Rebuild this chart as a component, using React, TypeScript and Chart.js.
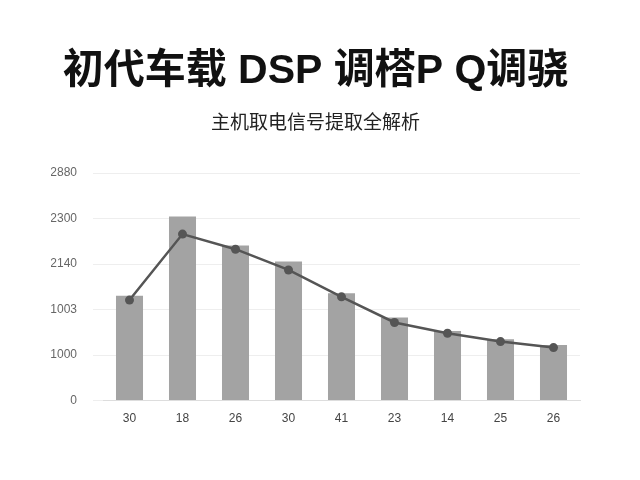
import React, { useRef, useEffect } from "react";
import Chart from "chart.js/auto";

const categories = ["30", "18", "26", "30", "41", "23", "14", "25", "26"];
const barValues = [1151, 2023, 1703, 1527, 1178, 913, 765, 673, 610];
const lineValues = [1104, 1829, 1663, 1435, 1140, 858, 740, 648, 582];
const yTickLabels = ["0", "1000", "1003", "2140", "2300", "2880"];

const titleText = "初代车载 DSP 调榙P Q调骁";
const subtitleText = "主机取电信号提取全解析";

const App: React.FC = () => {
  const canvasRef = useRef<HTMLCanvasElement>(null);
  const chartRef = useRef<Chart | null>(null);

  useEffect(() => {
    if (chartRef.current) chartRef.current.destroy();
    const ctx = canvasRef.current!.getContext("2d")!;

    chartRef.current = new Chart(ctx, {
      type: "bar",
      data: {
        labels: categories,
        datasets: [
          {
            type: "line",
            data: lineValues,
            borderColor: "#555555",
            backgroundColor: "#555555",
            borderWidth: 2.5,
            pointRadius: 4.5,
            pointBackgroundColor: "#555555",
            pointBorderWidth: 0,
            tension: 0,
            order: 0,
          },
          {
            type: "bar",
            data: barValues,
            backgroundColor: "#a3a3a3",
            categoryPercentage: 1,
            barPercentage: 0.51,
            order: 1,
          },
        ],
      },
      options: {
        animation: false,
        responsive: true,
        maintainAspectRatio: false,
        layout: { padding: { left: 51, right: 60, top: 0, bottom: 51 } },
        plugins: {
          legend: { display: false },
          tooltip: { enabled: false },
          title: {
            display: true,
            text: titleText,
            color: "#111111",
            font: {
              family: '"Liberation Sans", "Noto Sans CJK SC", sans-serif',
              size: 41,
              weight: "bold",
            },
            padding: { top: 47, bottom: 10 },
          },
          subtitle: {
            display: true,
            text: subtitleText,
            color: "#222222",
            font: { family: '"Noto Sans CJK SC", sans-serif', size: 19 },
            padding: { top: 4, bottom: 40 },
          },
        },
        scales: {
          x: {
            grid: { display: false },
            border: { display: true, color: "#dddddd" },
            ticks: {
              color: "#444444",
              padding: 3,
              font: { family: '"Liberation Sans", sans-serif', size: 12 },
            },
          },
          y: {
            min: 0,
            max: 2500,
            afterFit: (scale: any) => {
              scale.width = 52;
            },
            grid: { color: "#eeeeee", tickLength: 10 },
            border: { display: false },
            ticks: {
              stepSize: 500,
              color: "#666666",
              padding: 16,
              font: { family: '"Liberation Sans", sans-serif', size: 12 },
              callback: (_v: any, i: number) => yTickLabels[i],
            },
          },
        },
      },
    });

    return () => {
      if (chartRef.current) {
        chartRef.current.destroy();
        chartRef.current = null;
      }
    };
  }, []);

  return (
    <div
      style={{
        position: "absolute",
        left: 0,
        top: 0,
        width: 640,
        height: 480,
        background: "#ffffff",
      }}
    >
      <canvas ref={canvasRef} />
    </div>
  );
};

export default App;
